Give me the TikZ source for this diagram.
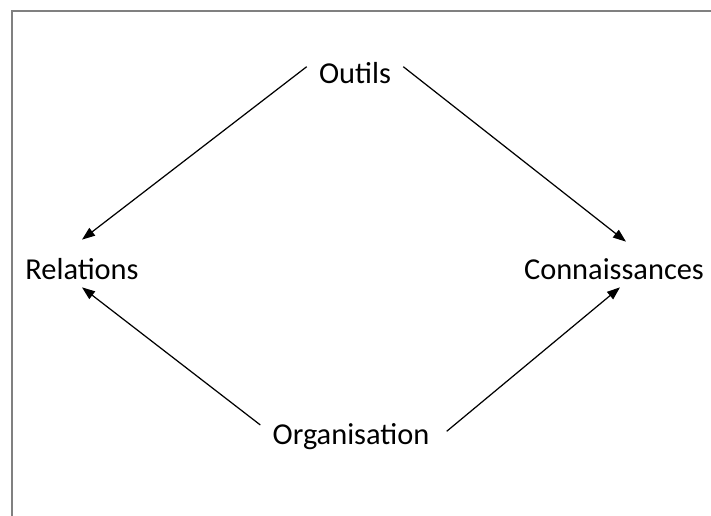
\documentclass[tikz,border=0pt]{standalone}
\usepackage{fontspec}
\setmainfont{Carlito}
\usetikzlibrary{arrows.meta}

\begin{document}
\begin{tikzpicture}[x=0.02cm,y=-0.02cm,
    term/.style={font=\fontsize{17.3}{20}\selectfont, text height=0.42cm, text depth=0pt, inner xsep=0.24cm, inner ysep=0.14cm},
    flow/.style={-{Triangle[length=0.26cm,width=0.19cm]}, line width=0.7pt}]
      \useasboundingbox (0,0) rectangle (711,516);
      \draw[line width=0.04cm, gray] (12,516) -- (12,11) -- (711,11);

      \node[term] (outils) at (355,73.5) {Outils};
      \node[term] (relations) at (82,269.5) {Relations};
      \node[term] (connaissances) at (614,269.5) {Connaissances};
      \node[term] (organisation) at (351,434.5) {Organisation};

      \draw[flow] (outils.172) -- ([yshift=0.24cm]relations.north);
      \draw[flow] (outils.8) -- ([xshift=0.24cm,yshift=0.2cm]connaissances.north);
      \draw[flow] (organisation.174) -- (relations.south);
      \draw[flow] ([xshift=0.1cm]organisation.2) -- ([xshift=0.12cm]connaissances.south);
    \end{tikzpicture}
\end{document}
